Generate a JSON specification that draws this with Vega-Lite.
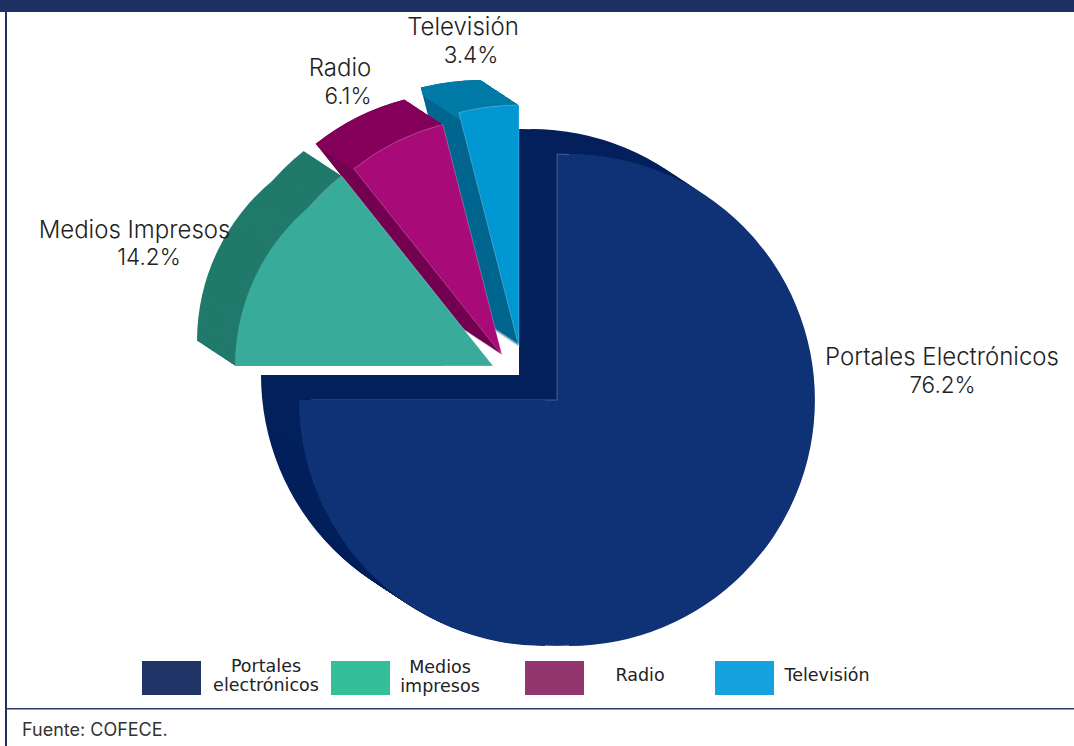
{"$schema":"https://vega.github.io/schema/vega-lite/v6.json","width":1074,"height":746,"autosize":{"type":"fit","contains":"padding"},"padding":0,"background":"white","view":{"stroke":null},
"data":{"values":[
{"medio":"Portales Electrónicos","leyenda":"Portales\nelectrónicos","valor":76.2,"porcentaje":"76.2%","desde":0,"hasta":75},
{"medio":"Medios Impresos","leyenda":"Medios\nimpresos","valor":14.2,"porcentaje":"14.2%","desde":75,"hasta":89.3},
{"medio":"Radio","leyenda":"Radio","valor":6.1,"porcentaje":"6.1%","desde":89.3,"hasta":96},
{"medio":"Televisión","leyenda":"Televisión","valor":3.4,"porcentaje":"3.4%","desde":96,"hasta":100}]},
"layer":[
{"data":{"values":[{}]},"mark":{"type":"rect","color":"#1f3163"},"encoding":{"x":{"value":0},"x2":{"value":1074},"y":{"value":0},"y2":{"value":12}}},
{"data":{"values":[{}]},"mark":{"type":"rect","color":"#1f3163"},"encoding":{"x":{"value":5},"x2":{"value":7},"y":{"value":12},"y2":{"value":746}}},
{"data":{"values":[{}]},"mark":{"type":"rect","color":"#2a3c6e"},"encoding":{"x":{"value":6},"x2":{"value":1074},"y":{"value":708},"y2":{"value":709.5}}},
{"data":{"values":[{"t":"Fuente: COFECE."}]},"mark":{"type":"text","font":"Inter","fontSize":18,"align":"left","baseline":"middle","color":"#333333"},"encoding":{"text":{"field":"t"},"x":{"value":22},"y":{"value":731}}},
{"encoding":{"x":{"field":"valor","type":"quantitative","axis":null,"scale":{"domain":[3.4,6.1,14.2,76.2],"range":[519,502,493,557],"zero":false,"nice":false}},"y":{"field":"valor","type":"quantitative","axis":null,"scale":{"domain":[3.4,6.1,14.2,76.2],"range":[347,355,366,400],"zero":false,"nice":false}},"theta":{"field":"desde","type":"quantitative","stack":null,"scale":{"domain":[0,100],"range":[0,6.28318]}},"theta2":{"field":"hasta"},"radius":{"field":"valor","type":"quantitative","legend":null,"scale":{"domain":[3.4,6.1,14.2,76.2],"range":[242,238,243,246],"zero":false,"nice":false}},"radius2":{"value":0},"color":{"field":"medio","type":"nominal","legend":null,"scale":{"domain":["Portales Electrónicos","Medios Impresos","Radio","Televisión"],"range":["#03205c","#217a6b","#730050","#00668f"]}}},
"layer":[
{"mark":{"type":"arc","xOffset":-38,"yOffset":-25}},{"mark":{"type":"arc","xOffset":-37,"yOffset":-24.3}},{"mark":{"type":"arc","xOffset":-36,"yOffset":-23.7}},{"mark":{"type":"arc","xOffset":-35,"yOffset":-23}},{"mark":{"type":"arc","xOffset":-34,"yOffset":-22.4}},{"mark":{"type":"arc","xOffset":-33,"yOffset":-21.7}},{"mark":{"type":"arc","xOffset":-32,"yOffset":-21.1}},{"mark":{"type":"arc","xOffset":-31,"yOffset":-20.4}},{"mark":{"type":"arc","xOffset":-30,"yOffset":-19.7}},{"mark":{"type":"arc","xOffset":-29,"yOffset":-19.1}},{"mark":{"type":"arc","xOffset":-28,"yOffset":-18.4}},{"mark":{"type":"arc","xOffset":-27,"yOffset":-17.8}},{"mark":{"type":"arc","xOffset":-26,"yOffset":-17.1}},{"mark":{"type":"arc","xOffset":-25,"yOffset":-16.4}},{"mark":{"type":"arc","xOffset":-24,"yOffset":-15.8}},{"mark":{"type":"arc","xOffset":-23,"yOffset":-15.1}},{"mark":{"type":"arc","xOffset":-22,"yOffset":-14.5}},{"mark":{"type":"arc","xOffset":-21,"yOffset":-13.8}},{"mark":{"type":"arc","xOffset":-20,"yOffset":-13.2}},{"mark":{"type":"arc","xOffset":-19,"yOffset":-12.5}},{"mark":{"type":"arc","xOffset":-18,"yOffset":-11.8}},{"mark":{"type":"arc","xOffset":-17,"yOffset":-11.2}},{"mark":{"type":"arc","xOffset":-16,"yOffset":-10.5}},{"mark":{"type":"arc","xOffset":-15,"yOffset":-9.9}},{"mark":{"type":"arc","xOffset":-14,"yOffset":-9.2}},{"mark":{"type":"arc","xOffset":-13,"yOffset":-8.6}},{"mark":{"type":"arc","xOffset":-12,"yOffset":-7.9}},{"mark":{"type":"arc","xOffset":-11,"yOffset":-7.2}},{"mark":{"type":"arc","xOffset":-10,"yOffset":-6.6}},{"mark":{"type":"arc","xOffset":-9,"yOffset":-5.9}},{"mark":{"type":"arc","xOffset":-8,"yOffset":-5.3}},{"mark":{"type":"arc","xOffset":-7,"yOffset":-4.6}},{"mark":{"type":"arc","xOffset":-6,"yOffset":-3.9}},{"mark":{"type":"arc","xOffset":-5,"yOffset":-3.3}},{"mark":{"type":"arc","xOffset":-4,"yOffset":-2.6}},{"mark":{"type":"arc","xOffset":-3,"yOffset":-2}},{"mark":{"type":"arc","xOffset":-2,"yOffset":-1.3}},{"mark":{"type":"arc","xOffset":-1,"yOffset":-0.7}}
]},
{"transform":[{"filter":"datum.valor > 10"}],"encoding":{"x":{"field":"valor","type":"quantitative","axis":null,"scale":{"domain":[14.2,76.2],"range":[443,545],"zero":false,"nice":false}},"y":{"field":"valor","type":"quantitative","axis":null,"scale":{"domain":[14.2,76.2],"range":[366,400],"zero":false,"nice":false}},"theta":{"field":"desde","type":"quantitative","stack":null,"scale":{"domain":[0,75,100],"range":[3.14159,4.71239,6.28318]}},"theta2":{"field":"hasta"},"radius":{"field":"valor","type":"quantitative","legend":null,"scale":{"domain":[14.2,76.2],"range":[208,246],"zero":false,"nice":false}},"radius2":{"value":0},"color":{"field":"medio","type":"nominal","legend":null,"scale":{"domain":["Portales Electrónicos","Medios Impresos"],"range":["#03205c","#217a6b"]}}},
"layer":[
{"mark":{"type":"arc","xOffset":-38,"yOffset":-25}},{"mark":{"type":"arc","xOffset":-37,"yOffset":-24.3}},{"mark":{"type":"arc","xOffset":-36,"yOffset":-23.7}},{"mark":{"type":"arc","xOffset":-35,"yOffset":-23}},{"mark":{"type":"arc","xOffset":-34,"yOffset":-22.4}},{"mark":{"type":"arc","xOffset":-33,"yOffset":-21.7}},{"mark":{"type":"arc","xOffset":-32,"yOffset":-21.1}},{"mark":{"type":"arc","xOffset":-31,"yOffset":-20.4}},{"mark":{"type":"arc","xOffset":-30,"yOffset":-19.7}},{"mark":{"type":"arc","xOffset":-29,"yOffset":-19.1}},{"mark":{"type":"arc","xOffset":-28,"yOffset":-18.4}},{"mark":{"type":"arc","xOffset":-27,"yOffset":-17.8}},{"mark":{"type":"arc","xOffset":-26,"yOffset":-17.1}},{"mark":{"type":"arc","xOffset":-25,"yOffset":-16.4}},{"mark":{"type":"arc","xOffset":-24,"yOffset":-15.8}},{"mark":{"type":"arc","xOffset":-23,"yOffset":-15.1}},{"mark":{"type":"arc","xOffset":-22,"yOffset":-14.5}},{"mark":{"type":"arc","xOffset":-21,"yOffset":-13.8}},{"mark":{"type":"arc","xOffset":-20,"yOffset":-13.2}},{"mark":{"type":"arc","xOffset":-19,"yOffset":-12.5}},{"mark":{"type":"arc","xOffset":-18,"yOffset":-11.8}},{"mark":{"type":"arc","xOffset":-17,"yOffset":-11.2}},{"mark":{"type":"arc","xOffset":-16,"yOffset":-10.5}},{"mark":{"type":"arc","xOffset":-15,"yOffset":-9.9}},{"mark":{"type":"arc","xOffset":-14,"yOffset":-9.2}},{"mark":{"type":"arc","xOffset":-13,"yOffset":-8.6}},{"mark":{"type":"arc","xOffset":-12,"yOffset":-7.9}},{"mark":{"type":"arc","xOffset":-11,"yOffset":-7.2}},{"mark":{"type":"arc","xOffset":-10,"yOffset":-6.6}},{"mark":{"type":"arc","xOffset":-9,"yOffset":-5.9}},{"mark":{"type":"arc","xOffset":-8,"yOffset":-5.3}},{"mark":{"type":"arc","xOffset":-7,"yOffset":-4.6}},{"mark":{"type":"arc","xOffset":-6,"yOffset":-3.9}},{"mark":{"type":"arc","xOffset":-5,"yOffset":-3.3}},{"mark":{"type":"arc","xOffset":-4,"yOffset":-2.6}},{"mark":{"type":"arc","xOffset":-3,"yOffset":-2}},{"mark":{"type":"arc","xOffset":-2,"yOffset":-1.3}},{"mark":{"type":"arc","xOffset":-1,"yOffset":-0.7}}
]},
{"transform":[{"filter":"datum.valor > 50"}],"encoding":{"x":{"field":"valor","type":"quantitative","axis":null,"scale":{"domain":[0,76.2],"range":[0,569],"zero":false,"nice":false}},"y":{"field":"valor","type":"quantitative","axis":null,"scale":{"domain":[0,76.2],"range":[0,400],"zero":false,"nice":false}},"theta":{"field":"desde","type":"quantitative","stack":null,"scale":{"domain":[0,75],"range":[0,3.14159]}},"theta2":{"field":"hasta"},"radius":{"field":"valor","type":"quantitative","legend":null,"scale":{"domain":[0,76.2],"range":[0,246],"zero":false,"nice":false}},"radius2":{"value":0}},
"layer":[
{"mark":{"type":"arc","color":"#03205c","xOffset":-38,"yOffset":-25}},{"mark":{"type":"arc","color":"#03205c","xOffset":-30,"yOffset":-19.7}},{"mark":{"type":"arc","color":"#03205c","xOffset":-20,"yOffset":-13.2}},{"mark":{"type":"arc","color":"#03205c","xOffset":-10,"yOffset":-6.6}}
]},
{"transform":[{"filter":"datum.valor < 10"}],"encoding":{"x":{"field":"valor","type":"quantitative","axis":null,"scale":{"domain":[3.4,6.1],"range":[519,502],"zero":false,"nice":false}},"y":{"field":"valor","type":"quantitative","axis":null,"scale":{"domain":[3.4,6.1],"range":[347,355],"zero":false,"nice":false}},"theta":{"field":"desde","type":"quantitative","stack":null,"scale":{"domain":[0,100],"range":[0,6.28318]}},"theta2":{"field":"hasta"},"radius":{"field":"valor","type":"quantitative","legend":null,"scale":{"domain":[3.4,6.1],"range":[242,238],"zero":false,"nice":false}},"radius2":{"value":233},"color":{"field":"medio","type":"nominal","legend":null,"scale":{"domain":["Radio","Televisión"],"range":["#85005a","#007aa6"]}}},
"layer":[
{"mark":{"type":"arc","xOffset":-38,"yOffset":-25}},{"mark":{"type":"arc","xOffset":-36,"yOffset":-23.7}},{"mark":{"type":"arc","xOffset":-34,"yOffset":-22.4}},{"mark":{"type":"arc","xOffset":-32,"yOffset":-21.1}},{"mark":{"type":"arc","xOffset":-30,"yOffset":-19.7}},{"mark":{"type":"arc","xOffset":-28,"yOffset":-18.4}},{"mark":{"type":"arc","xOffset":-26,"yOffset":-17.1}},{"mark":{"type":"arc","xOffset":-24,"yOffset":-15.8}},{"mark":{"type":"arc","xOffset":-22,"yOffset":-14.5}},{"mark":{"type":"arc","xOffset":-20,"yOffset":-13.2}},{"mark":{"type":"arc","xOffset":-18,"yOffset":-11.8}},{"mark":{"type":"arc","xOffset":-16,"yOffset":-10.5}},{"mark":{"type":"arc","xOffset":-14,"yOffset":-9.2}},{"mark":{"type":"arc","xOffset":-12,"yOffset":-7.9}},{"mark":{"type":"arc","xOffset":-10,"yOffset":-6.6}},{"mark":{"type":"arc","xOffset":-8,"yOffset":-5.3}},{"mark":{"type":"arc","xOffset":-6,"yOffset":-3.9}},{"mark":{"type":"arc","xOffset":-4,"yOffset":-2.6}},{"mark":{"type":"arc","xOffset":-2,"yOffset":-1.3}}
]},
{"mark":{"type":"arc","stroke":"#ffffff","strokeOpacity":0.35,"strokeWidth":0.7},"encoding":{"x":{"field":"valor","type":"quantitative","axis":null,"scale":{"domain":[3.4,6.1,14.2,76.2],"range":[519,502,493,557],"zero":false,"nice":false}},"y":{"field":"valor","type":"quantitative","axis":null,"scale":{"domain":[3.4,6.1,14.2,76.2],"range":[347,355,366,400],"zero":false,"nice":false}},"theta":{"field":"desde","type":"quantitative","stack":null,"scale":{"domain":[0,100],"range":[0,6.28318]}},"theta2":{"field":"hasta"},"radius":{"field":"valor","type":"quantitative","legend":null,"scale":{"domain":[3.4,6.1,14.2,76.2],"range":[242,238,243,246],"zero":false,"nice":false}},"radius2":{"value":0},"color":{"field":"medio","type":"nominal","legend":null,"scale":{"domain":["Portales Electrónicos","Medios Impresos","Radio","Televisión"],"range":["#0f3176","#39ab9b","#a80a77","#0097d3"]}}}},
{"transform":[{"filter":"datum.valor > 10"}],"mark":{"type":"arc"},"encoding":{"x":{"field":"valor","type":"quantitative","axis":null,"scale":{"domain":[14.2,76.2],"range":[443,545],"zero":false,"nice":false}},"y":{"field":"valor","type":"quantitative","axis":null,"scale":{"domain":[14.2,76.2],"range":[366,400],"zero":false,"nice":false}},"theta":{"field":"desde","type":"quantitative","stack":null,"scale":{"domain":[0,75,100],"range":[3.14159,4.71239,6.28318]}},"theta2":{"field":"hasta"},"radius":{"field":"valor","type":"quantitative","legend":null,"scale":{"domain":[14.2,76.2],"range":[208,246],"zero":false,"nice":false}},"radius2":{"value":0},"color":{"field":"medio","type":"nominal","legend":null,"scale":{"domain":["Portales Electrónicos","Medios Impresos"],"range":["#0f3176","#39ab9b"]}}}},
{"transform":[{"filter":"datum.valor > 50"}],"mark":{"type":"arc","color":"#0f3176"},"encoding":{"x":{"field":"valor","type":"quantitative","axis":null,"scale":{"domain":[0,76.2],"range":[0,569],"zero":false,"nice":false}},"y":{"field":"valor","type":"quantitative","axis":null,"scale":{"domain":[0,76.2],"range":[0,400],"zero":false,"nice":false}},"theta":{"field":"desde","type":"quantitative","stack":null,"scale":{"domain":[0,75],"range":[0,3.14159]}},"theta2":{"field":"hasta"},"radius":{"field":"valor","type":"quantitative","legend":null,"scale":{"domain":[0,76.2],"range":[0,246],"zero":false,"nice":false}},"radius2":{"value":0}}},
{"mark":{"type":"text","font":"Inter","fontSize":24,"fontWeight":300,"color":"#222222","baseline":"middle"},"encoding":{"text":{"field":"medio"},"x":{"field":"valor","type":"quantitative","axis":null,"scale":{"domain":[3.4,6.1,14.2,76.2],"range":[463,340,134.5,942],"zero":false,"nice":false}},"y":{"field":"valor","type":"quantitative","axis":null,"scale":{"domain":[3.4,6.1,14.2,76.2],"range":[28,69,231,358],"zero":false,"nice":false}}}},
{"mark":{"type":"text","font":"Inter","fontSize":22.5,"fontWeight":300,"color":"#222222","baseline":"middle"},"encoding":{"text":{"field":"porcentaje"},"x":{"field":"valor","type":"quantitative","axis":null,"scale":{"domain":[3.4,6.1,14.2,76.2],"range":[471,348,149,942.5],"zero":false,"nice":false}},"y":{"field":"valor","type":"quantitative","axis":null,"scale":{"domain":[3.4,6.1,14.2,76.2],"range":[56,97,258,386],"zero":false,"nice":false}}}},
{"mark":{"type":"rect","width":59,"height":34},"encoding":{"x":{"field":"valor","type":"quantitative","axis":null,"scale":{"domain":[3.4,6.1,14.2,76.2],"range":[744.5,554.5,360.5,171.5],"zero":false,"nice":false}},"y":{"field":"valor","type":"quantitative","axis":null,"scale":{"domain":[3.4,76.2],"range":[678,678],"zero":false,"nice":false}},"color":{"field":"medio","type":"nominal","legend":null,"scale":{"domain":["Portales Electrónicos","Medios Impresos","Radio","Televisión"],"range":["#213468","#34bf9b","#93356f","#14a3df"]}}}},
{"mark":{"type":"text","font":"DejaVu Sans","fontSize":17.5,"color":"#222222","baseline":"middle","lineBreak":"\n","lineHeight":19},"encoding":{"text":{"field":"leyenda"},"x":{"field":"valor","type":"quantitative","axis":null,"scale":{"domain":[3.4,6.1,14.2,76.2],"range":[827,640,440,266],"zero":false,"nice":false}},"y":{"field":"valor","type":"quantitative","axis":null,"scale":{"domain":[3.4,6.1,14.2,76.2],"range":[676,676,668,667],"zero":false,"nice":false}}}}
],
"resolve":{"scale":{"x":"independent","y":"independent","color":"independent","radius":"independent","theta":"independent"}}}
